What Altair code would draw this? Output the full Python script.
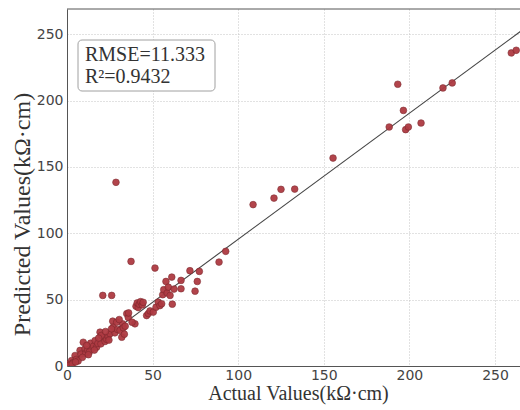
import altair as alt
import pandas as pd

actual = [0.8, 1.5, 2.7, 3.5, 4.7, 5.5, 6.5, 7.6, 8.2, 9.5, 10.5, 11.0, 12.0, 13.8, 14.4,
          15.5, 16.4, 17.3, 18.0, 19.3, 19.8, 20.9, 21.2, 22.2, 23.2, 24.0, 25.1, 26.1,
          26.7, 27.0, 28.0, 28.6, 29.5, 31.0, 32.0, 32.5, 32.9, 34.0, 34.9, 35.8, 37.4,
          39.7, 40.3, 41.0, 41.6, 42.2, 43.0, 44.0, 44.5, 46.5, 47.5, 48.5, 50.4, 51.4,
          52.0, 53.3, 54.3, 55.3, 55.9, 56.5, 57.8, 58.5, 59.2, 60.2, 61.2, 61.5, 62.5,
          66.6, 66.6, 71.8, 74.8, 76.1, 77.3, 88.8, 92.7,
          11.5, 13.0, 20.0, 22.5, 24.5, 26.0, 29.0, 30.5, 33.5, 36.0, 38.0, 12.5, 9.0,
          16.0, 18.5, 3.0, 5.0,
          108.7, 120.9, 125.0, 133.0, 155.4, 188.2, 193.2, 196.5, 197.8, 199.4, 206.8,
          219.6, 225.0, 259.5, 262.4]
predicted = [1.7, 0.8, 4.1, 2.5, 7.9, 5.0, 3.8, 11.7, 9.0, 17.9, 13.0, 9.5, 12.0, 17.2, 13.0,
             15.0, 19.2, 14.2, 17.0, 25.5, 16.7, 53.2, 21.7, 18.5, 20.0, 22.5, 24.3, 53.2,
             33.8, 29.3, 25.0, 138.4, 27.5, 26.8, 21.7, 31.8, 28.8, 30.0, 39.4, 36.5, 78.8,
             31.8, 45.0, 47.5, 44.0, 46.5, 48.5, 46.0, 48.0, 38.0, 39.5, 41.5, 40.6, 73.8,
             44.3, 48.1, 45.5, 46.9, 53.7, 57.5, 63.7, 55.0, 59.4, 53.2, 67.0, 46.6, 58.0,
             64.5, 58.2, 71.8, 56.4, 63.7, 71.3, 78.3, 86.4,
             15.5, 10.5, 23.0, 26.0, 19.5, 28.0, 33.0, 35.0, 24.0, 40.0, 33.0, 8.5, 6.5,
             12.0, 21.0, 1.5, 3.0,
             121.6, 126.5, 133.1, 133.3, 156.7, 180.1, 212.3, 192.6, 178.1, 180.1, 183.1,
             209.5, 213.3, 235.9, 237.9]

fit_x = [0, 270]
fit_y = [0.5, 257]

x_ticks = [0, 50, 100, 150, 200, 250]
y_ticks = [0, 50, 100, 150, 200, 250]
x_domain = [0, 264.6]
y_domain = [0, 269]

stats_lines = ["RMSE=11.333", "R²=0.9432"]

W, H = 453, 357

pts = pd.DataFrame({"actual": actual, "predicted": predicted})
fit = pd.DataFrame({"actual": fit_x, "predicted": fit_y})
one = pd.DataFrame({"k": [0]})

xscale = alt.Scale(domain=x_domain, nice=False, zero=False)
yscale = alt.Scale(domain=y_domain, nice=False, zero=False)

xaxis = alt.Axis(values=x_ticks, title="Actual Values(kΩ·cm)", titleFont="Liberation Serif",
                 titleFontSize=20, titleFontWeight="normal", titleColor="#333333",
                 titleX=231, titleY=33, titleBaseline="alphabetic", titleAlign="center",
                 labelFont="DejaVu Sans", labelFontSize=14, labelColor="#444444",
                 labelPadding=2, ticks=False, domainColor="#555555", gridColor="#c4c4c4",
                 gridDash=[1, 2], labelFlush=False)
yaxis = alt.Axis(values=y_ticks, title="Predicted Values(kΩ·cm)", titleFont="Liberation Serif",
                 titleFontSize=24, titleFontWeight="normal", titleColor="#333333",
                 titleX=-38, titleY=205, titleAngle=270, titleBaseline="alphabetic",
                 titleAlign="center",
                 labelFont="DejaVu Sans", labelFontSize=14, labelColor="#444444",
                 labelPadding=4, ticks=False, domainColor="#555555", gridColor="#c4c4c4",
                 gridDash=[1, 2], labelFlush=False)

line = alt.Chart(fit).mark_line(color="#444444", strokeWidth=1.1, clip=True).encode(
    x=alt.X("actual:Q", scale=xscale, axis=xaxis),
    y=alt.Y("predicted:Q", scale=yscale, axis=yaxis),
)

points = alt.Chart(pts).mark_circle(size=45, color="#AE3A42", opacity=0.95,
                                    stroke="#7a262c", strokeWidth=0.6, clip=True).encode(
    x=alt.X("actual:Q", scale=xscale),
    y=alt.Y("predicted:Q", scale=yscale),
)

top_border = alt.Chart(one).mark_rule(color="#555555", strokeWidth=1).encode(
    x=alt.value(0), x2=alt.value(W), y=alt.value(0)
)

box = alt.Chart(one).mark_rect(fill="white", stroke="#a0a0a0", strokeWidth=1,
                               cornerRadius=4).encode(
    x=alt.value(11), x2=alt.value(148), y=alt.value(31), y2=alt.value(82)
)

txt1 = alt.Chart(one).mark_text(text=stats_lines[0], font="Liberation Serif", fontSize=20,
                                align="left", baseline="alphabetic", color="#333333").encode(
    x=alt.value(18), y=alt.value(52)
)
txt2 = alt.Chart(one).mark_text(text=stats_lines[1], font="Liberation Serif", fontSize=20,
                                align="left", baseline="alphabetic", color="#333333").encode(
    x=alt.value(18), y=alt.value(74)
)

chart = alt.layer(line, points, top_border, box, txt1, txt2).properties(
    width=W, height=H,
    autosize=alt.AutoSizeParams(type="none"),
    padding={"left": 67, "top": 9, "right": 0, "bottom": 44},
    background="white",
).configure_view(stroke=None)

chart.save("out.html", embed_options={"renderer": "svg", "actions": False})
